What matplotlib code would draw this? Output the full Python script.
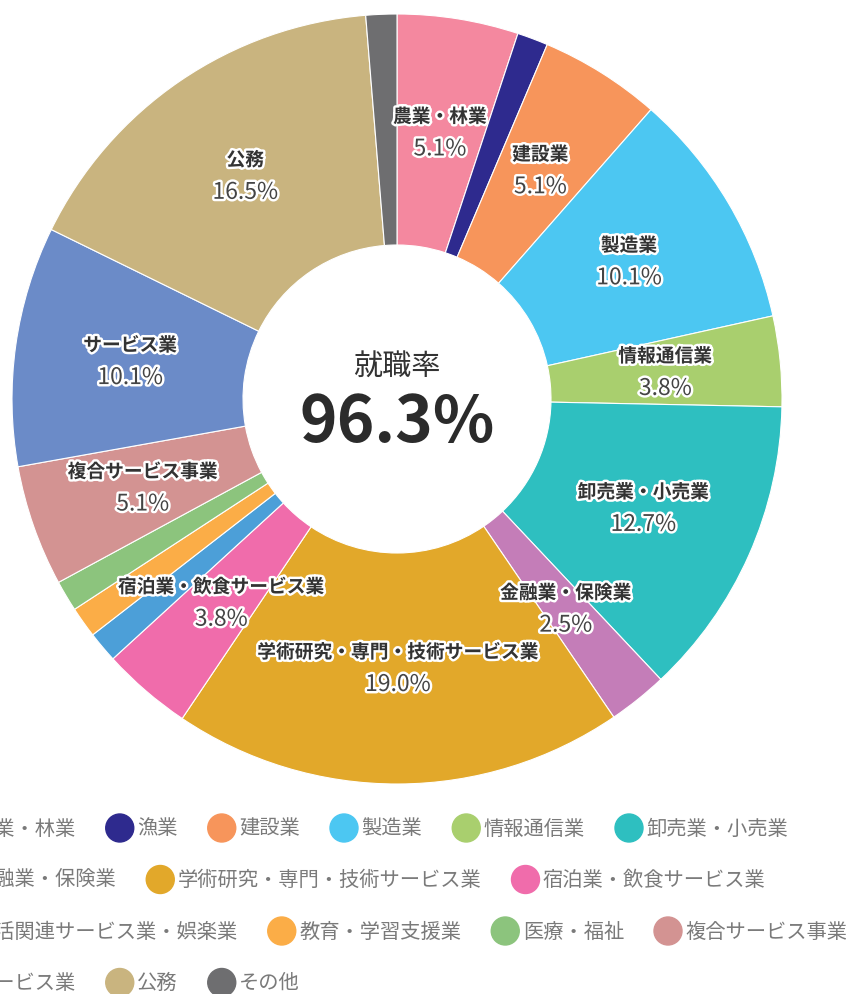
import numpy as np
import matplotlib.pyplot as plt
import matplotlib.patheffects as pe
from matplotlib.patches import Circle

plt.rcParams['font.family'] = ['Noto Sans CJK JP', 'DejaVu Sans']

# data (share of graduates by industry, %)
industries = ['農業・林業', '漁業', '建設業', '製造業', '情報通信業', '卸売業・小売業',
              '金融業・保険業', '学術研究・専門・技術サービス業', '宿泊業・飲食サービス業',
              '生活関連サービス業・娯楽業', '教育・学習支援業', '医療・福祉',
              '複合サービス事業', 'サービス業', '公務', 'その他']
shares = [5.1, 1.3, 5.1, 10.1, 3.8, 12.7, 2.5, 19.0, 3.8, 1.3, 1.3, 1.3, 5.1, 10.1, 16.5, 1.3]
colors = ['#F4889F', '#2E2A8E', '#F7955B', '#4CC7F2', '#A9CF6E', '#2EBFC0',
          '#C47DB8', '#E2A82A', '#F06CAB', '#4C9FD8', '#FBAD47', '#8CC47D',
          '#D39392', '#6B8BC8', '#C9B47F', '#6E6E70']
rate_label = '就職率'
rate_value = '96.3%'

W, H = 846, 994
fig = plt.figure(figsize=(W / 100, H / 100), dpi=100)
ax = fig.add_axes([0, 0, 1, 1])

# everything is laid out in pixel units, y pointing up
cx, cy = 397, H - 399
R, hole = 385, 154

wedges, _ = ax.pie(shares, colors=colors, startangle=90, counterclock=False,
                   center=(cx, cy), radius=R,
                   wedgeprops=dict(width=R - hole, edgecolor='white', linewidth=0.8))
ax.set_xlim(0, W)
ax.set_ylim(0, H)
ax.set_aspect('equal')
ax.axis('off')

halo = [pe.withStroke(linewidth=3.5, foreground='white')]
r_lab = (R + hole) / 2
for w, name, share in zip(wedges, industries, shares):
    if share < 2.5:
        continue
    ang = np.deg2rad((w.theta1 + w.theta2) / 2)
    x = cx + r_lab * np.cos(ang)
    y = cy + r_lab * np.sin(ang)
    ax.text(x, y + 16, name, fontsize=13.5, fontweight='bold', color='#333333',
            ha='center', va='center', path_effects=halo)
    ax.text(x, y - 16, f'{share:.1f}%', fontsize=16.5, color='#444444',
            ha='center', va='center', path_effects=halo)

ax.text(cx, H - 367, rate_label, fontsize=21, color='#333333', ha='center', va='center')
ax.text(cx, H - 423, rate_value, fontsize=46, fontweight='bold', color='#2b2b2b',
        ha='center', va='center')

# legend: left-aligned flowing rows, the first column sits partly off the canvas
renderer = fig.canvas.get_renderer()
x0 = -43
x = x0
row_y = H - 828
for name, c in zip(industries, colors):
    t = ax.text(0, 0, name, fontsize=14.6, color='#7a7a7a', ha='left', va='center')
    tw = t.get_window_extent(renderer).width
    if x > x0 and x + 17.5 + tw > 880:
        x = x0
        row_y -= 51.5
    ax.add_patch(Circle((x, row_y), 14, color=c, clip_on=False))
    t.set_position((x + 17.5, row_y - 1))
    x += 17.5 + tw + 44

fig.savefig('out.png', dpi=100)
